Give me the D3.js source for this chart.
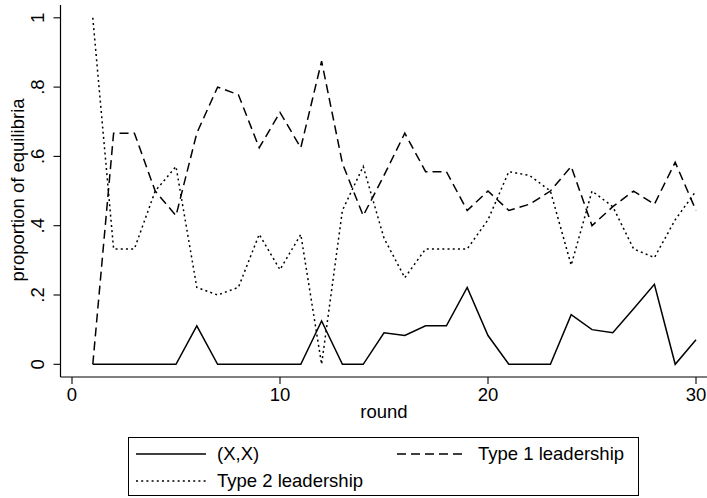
<!DOCTYPE html>
<html>
<head>
<meta charset="utf-8">
<script src="https://cdn.jsdelivr.net/npm/d3@7"></script>
<style>
  body { margin: 0; background: #fff; }
  svg { display: block; font-family: 'Liberation Sans', Arial, sans-serif; }
</style>
</head>
<body>
<svg id="chart" width="707" height="498"></svg>
<script>
// Share of groups per round ending in each equilibrium type
const rounds = [1, 2, 3, 4, 5, 6, 7, 8, 9, 10, 11, 12, 13, 14, 15,
  16, 17, 18, 19, 20, 21, 22, 23, 24, 25, 26, 27, 28, 29, 30];
const xxShare = [0, 0, 0, 0, 0, 0.111, 0, 0, 0, 0, 0, 0.125, 0, 0, 0.091,
  0.083, 0.111, 0.111, 0.222, 0.083, 0, 0, 0, 0.143, 0.1, 0.091, 0.16, 0.231, 0, 0.071];
const type1Share = [0, 0.667, 0.667, 0.5, 0.429, 0.667, 0.8, 0.778, 0.625, 0.727, 0.625, 0.875, 0.58, 0.429, 0.545,
  0.667, 0.556, 0.556, 0.444, 0.5, 0.444, 0.462, 0.5, 0.571, 0.4, 0.455, 0.5, 0.462, 0.583, 0.444];
const type2Share = [1, 0.333, 0.333, 0.5, 0.571, 0.222, 0.2, 0.222, 0.375, 0.273, 0.375, 0, 0.444, 0.571, 0.364,
  0.25, 0.333, 0.333, 0.333, 0.417, 0.556, 0.545, 0.5, 0.286, 0.5, 0.455, 0.333, 0.308, 0.417, 0.5];

const xTicks = [0, 10, 20, 30];
const yTicks = [0, 0.2, 0.4, 0.6, 0.8, 1];
const yTickLabels = ['0', '.2', '.4', '.6', '.8', '1'];

const seriesNames = ['(X,X)', 'Type 1 leadership', 'Type 2 leadership'];
const dashes = [null, '9,5', '2,3.2'];

const svg = d3.select('#chart');
const FS = 18.5;

const x = d3.scaleLinear().domain([0, 30]).range([72, 696]);
const y = d3.scaleLinear().domain([0, 1]).range([364.3, 17.8]);

const axisLeft = 60.5;
const axisBottom = 377;

// Axes
function drawAxes() {
  svg.append('line')
    .attr('x1', axisLeft).attr('x2', axisLeft)
    .attr('y1', 5).attr('y2', axisBottom)
    .attr('stroke', '#000').attr('stroke-width', 1.2);
  svg.append('line')
    .attr('x1', axisLeft).attr('x2', 707)
    .attr('y1', axisBottom).attr('y2', axisBottom)
    .attr('stroke', '#000').attr('stroke-width', 1.2);

  const yt = svg.append('g').selectAll('g').data(yTicks).join('g');
  yt.append('line')
    .attr('x1', axisLeft - 7).attr('x2', axisLeft)
    .attr('y1', d => y(d)).attr('y2', d => y(d))
    .attr('stroke', '#000').attr('stroke-width', 1.1);
  yt.append('text')
    .attr('transform', d => `translate(44,${y(d)}) rotate(-90)`)
    .attr('text-anchor', 'middle')
    .attr('font-size', FS)
    .text((d, i) => yTickLabels[i]);

  const xt = svg.append('g').selectAll('g').data(xTicks).join('g');
  xt.append('line')
    .attr('x1', d => x(d)).attr('x2', d => x(d))
    .attr('y1', axisBottom).attr('y2', axisBottom + 7)
    .attr('stroke', '#000').attr('stroke-width', 1.1);
  xt.append('text')
    .attr('x', d => x(d)).attr('y', 401)
    .attr('text-anchor', 'middle')
    .attr('font-size', FS)
    .text(d => d);

  svg.append('text')
    .attr('x', 384).attr('y', 418)
    .attr('text-anchor', 'middle')
    .attr('font-size', FS)
    .text('round');

  svg.append('text')
    .attr('transform', `translate(24,190) rotate(-90)`)
    .attr('text-anchor', 'middle')
    .attr('font-size', FS)
    .text('proportion of equilibria');
}

function drawLines() {
  const line = d3.line().x(d => x(d[0])).y(d => y(d[1]));
  [xxShare, type1Share, type2Share].forEach((vals, i) => {
    svg.append('path')
      .datum(rounds.map((r, j) => [r, vals[j]]))
      .attr('fill', 'none')
      .attr('stroke', '#000')
      .attr('stroke-width', 1.5)
      .attr('stroke-dasharray', dashes[i])
      .attr('d', line);
  });
}

function drawLegend() {
  const g = svg.append('g');
  g.append('rect')
    .attr('x', 128.5).attr('y', 437.5)
    .attr('width', 510).attr('height', 58)
    .attr('fill', '#fff').attr('stroke', '#000').attr('stroke-width', 1);

  // positions of the three keys
  const keys = [
    { lx: 136, ly: 454 },
    { lx: 397, ly: 454 },
    { lx: 136, ly: 481 }
  ];
  keys.forEach((k, i) => {
    g.append('line')
      .attr('x1', k.lx).attr('x2', k.lx + 70)
      .attr('y1', k.ly).attr('y2', k.ly)
      .attr('stroke', '#000').attr('stroke-width', 1.5)
      .attr('stroke-dasharray', dashes[i]);
    g.append('text')
      .attr('x', k.lx + 81).attr('y', k.ly + 6)
      .attr('font-size', FS)
      .text(seriesNames[i]);
  });
}

drawAxes();
drawLines();
drawLegend();
</script>
</body>
</html>
